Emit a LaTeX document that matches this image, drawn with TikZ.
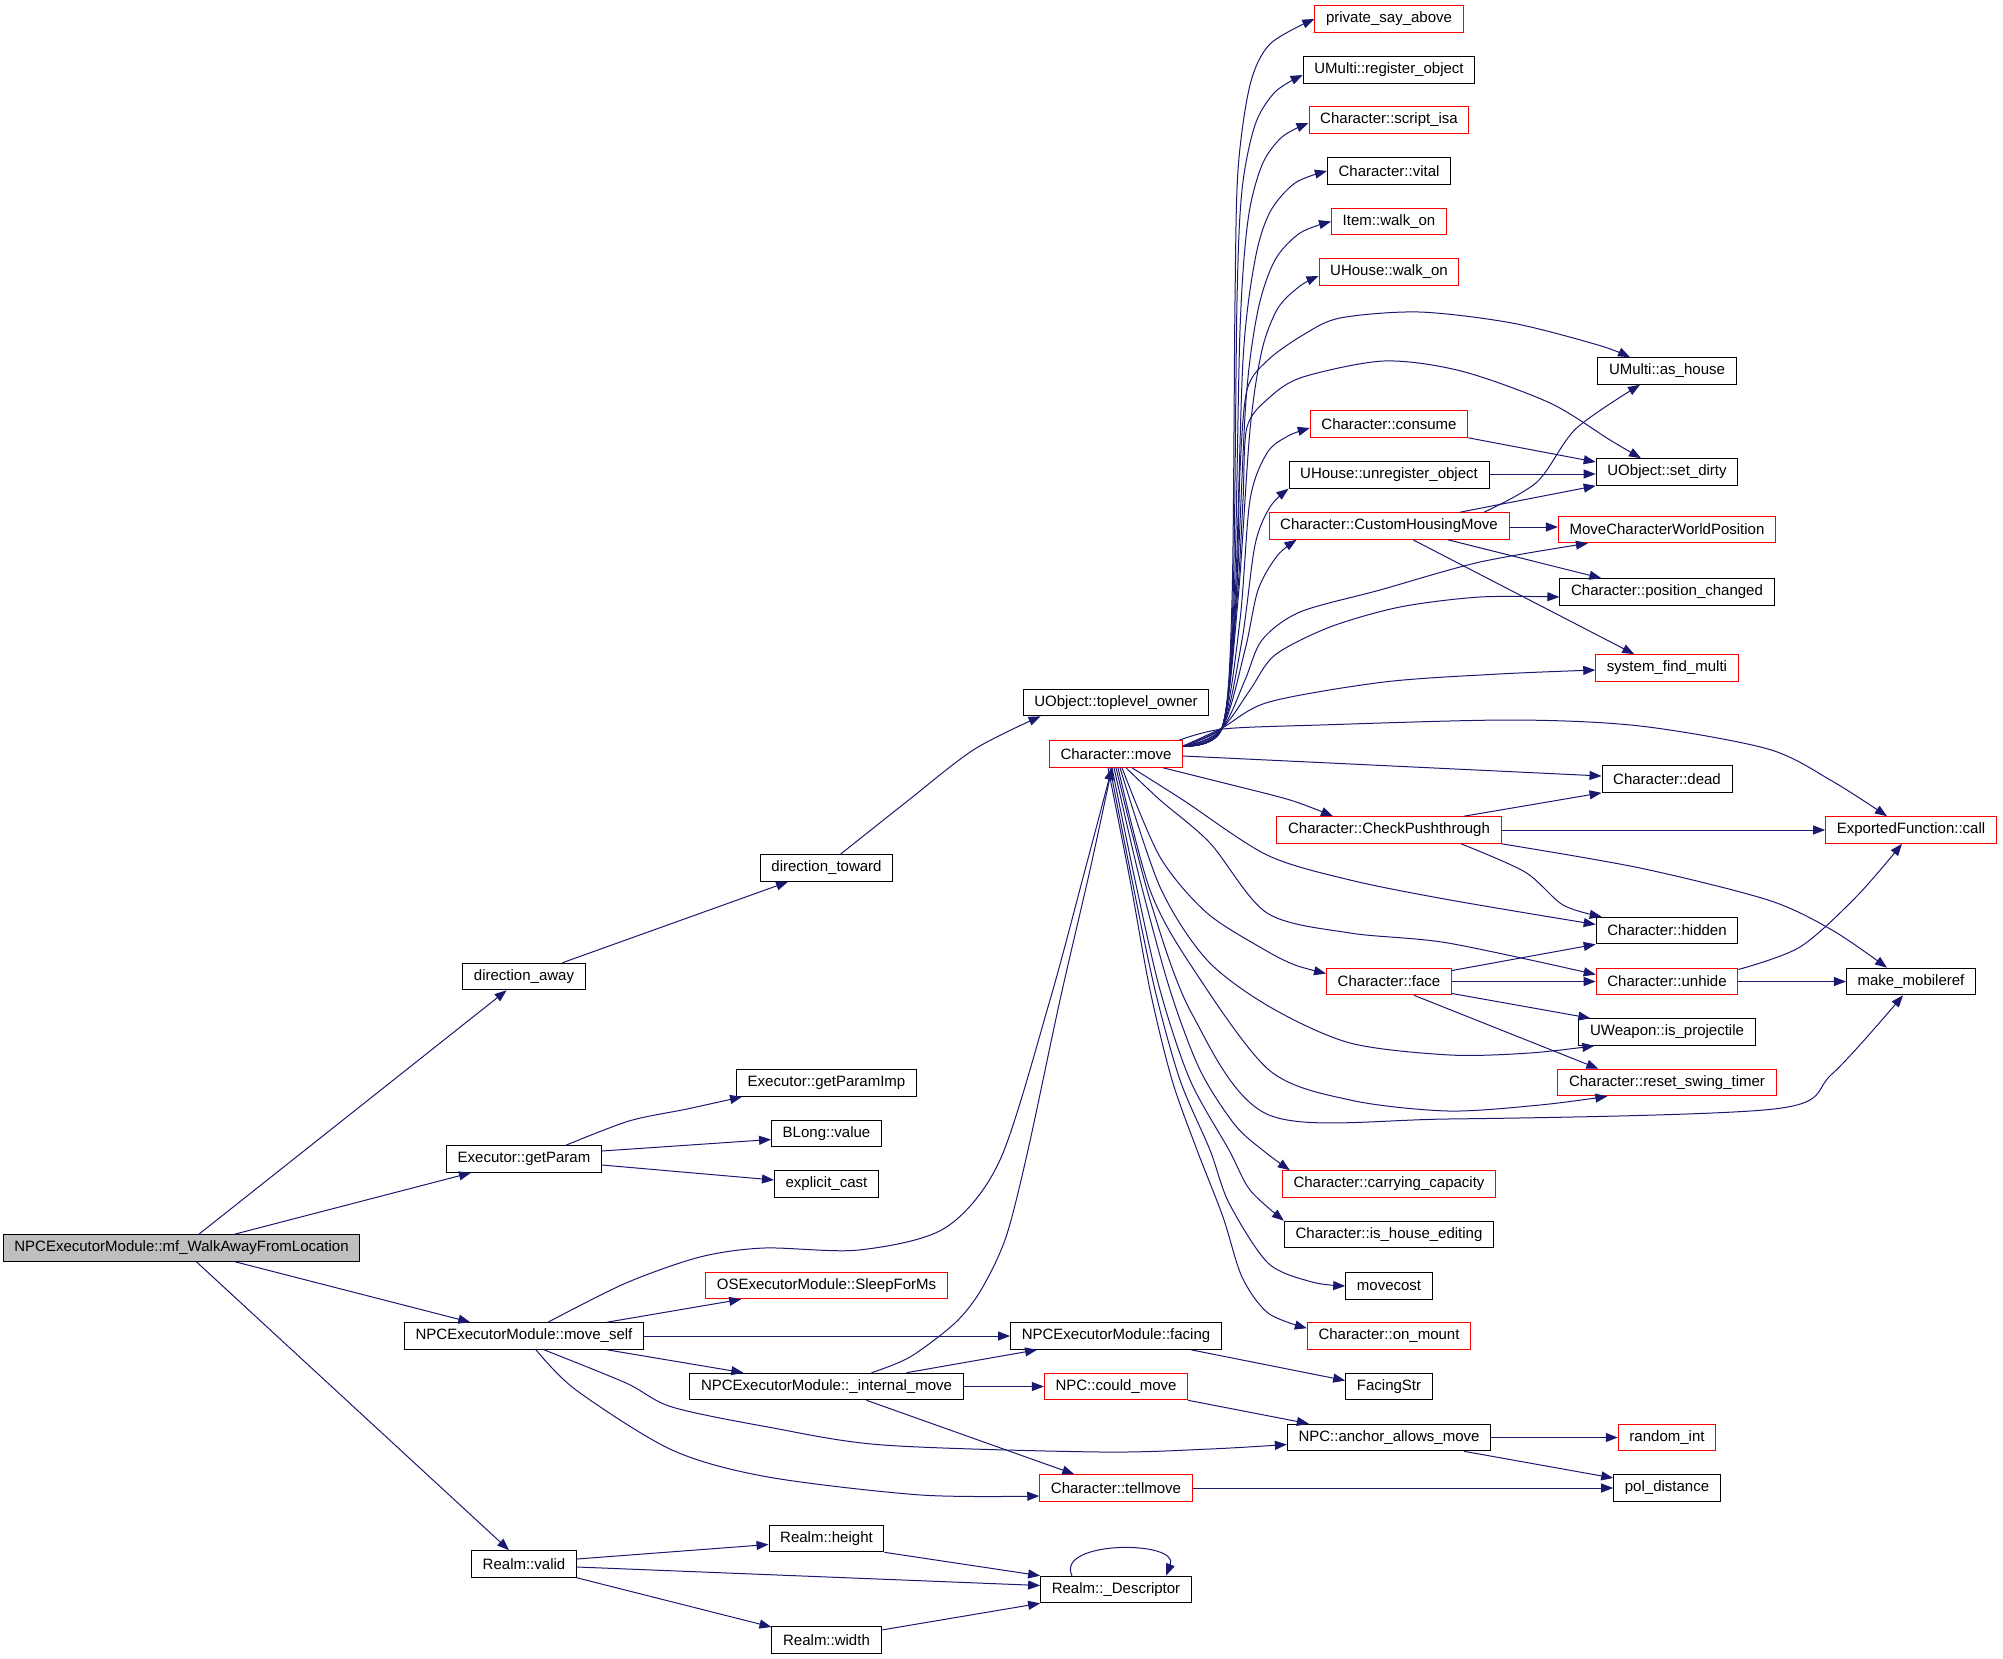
\documentclass[tikz,border=0pt]{standalone}
\usepackage{fontspec}
\setmainfont{Liberation Sans}
\usepackage{tikz}
\usetikzlibrary{arrows.meta}

\definecolor{edgeblue}{RGB}{25,25,112}
\definecolor{rootgrey}{RGB}{191,191,191}

\tikzset{
  fn/.style={rectangle, draw=black, line width=0.5pt, inner xsep=5.6pt, inner ysep=1pt,
    minimum height=13.3pt, font=\fontsize{7.5pt}{9pt}\selectfont},
  fnred/.style={fn, draw=red},
  fnroot/.style={fn, fill=rootgrey},
}

\begin{document}
\begin{tikzpicture}[x=0.5pt, y=-0.5pt, ->, >={Triangle[length=6pt,width=4.5pt]}, draw=edgeblue, line width=0.5pt]
      \useasboundingbox (0,0) rectangle (2003,1659);

      \node[fnroot] (walkaway) at (181.5,1248) {NPCExecutorModule::mf\_WalkAwayFromLocation};

      \node[fn] (diraway) at (524,976.5) {direction\_away};
      \node[fn] (getparam) at (524,1159) {Executor::getParam};
      \node[fn] (moveself) at (524,1336) {NPCExecutorModule::move\_self};
      \node[fn] (realmvalid) at (524,1564) {Realm::valid};

      \node[fn] (dirtoward) at (826.5,868) {direction\_toward};
      \node[fn] (getparamimp) at (826.5,1083) {Executor::getParamImp};
      \node[fn] (blong) at (826.5,1133.5) {BLong::value};
      \node[fn] (explicitcast) at (826.5,1184) {explicit\_cast};
      \node[fnred] (sleep) at (826.5,1285.5) {OSExecutorModule::SleepForMs};
      \node[fn] (internalmove) at (826.5,1386.5) {NPCExecutorModule::\_internal\_move};
      \node[fn] (realmheight) at (826.5,1538.5) {Realm::height};
      \node[fn] (realmwidth) at (826.5,1640) {Realm::width};

      \node[fn] (toplevel) at (1116,702.5) {UObject::toplevel\_owner};
      \node[fnred] (move) at (1116,754) {Character::move};
      \node[fn] (facing) at (1116,1336) {NPCExecutorModule::facing};
      \node[fnred] (couldmove) at (1116,1386.5) {NPC::could\_move};
      \node[fnred] (tellmove) at (1116,1488) {Character::tellmove};
      \node[fn] (descriptor) at (1116,1589.5) {Realm::\_Descriptor};

      \node[fnred] (sayabove) at (1389,19) {private\_say\_above};
      \node[fn] (registerobj) at (1389,70) {UMulti::register\_object};
      \node[fnred] (scriptisa) at (1389,120) {Character::script\_isa};
      \node[fn] (vital) at (1389,171) {Character::vital};
      \node[fnred] (itemwalk) at (1389,221.5) {Item::walk\_on};
      \node[fnred] (housewalk) at (1389,272) {UHouse::walk\_on};
      \node[fnred] (consume) at (1389,424) {Character::consume};
      \node[fn] (unregister) at (1389,475) {UHouse::unregister\_object};
      \node[fnred] (customhousing) at (1389,526) {Character::CustomHousingMove};
      \node[fnred] (pushthrough) at (1389,830) {Character::CheckPushthrough};
      \node[fnred] (face) at (1389,981.5) {Character::face};
      \node[fnred] (carrying) at (1389,1184) {Character::carrying\_capacity};
      \node[fn] (houseediting) at (1389,1234.5) {Character::is\_house\_editing};
      \node[fn] (movecost) at (1389,1286) {movecost};
      \node[fnred] (onmount) at (1389,1336) {Character::on\_mount};
      \node[fn] (facingstr) at (1389,1386.5) {FacingStr};
      \node[fn] (anchormove) at (1389,1437.5) {NPC::anchor\_allows\_move};

      \node[fn] (ashouse) at (1667,371) {UMulti::as\_house};
      \node[fn] (setdirty) at (1667,472) {UObject::set\_dirty};
      \node[fnred] (moveworld) at (1667,529.5) {MoveCharacterWorldPosition};
      \node[fn] (poschanged) at (1667,592) {Character::position\_changed};
      \node[fnred] (findmulti) at (1667,668) {system\_find\_multi};
      \node[fn] (dead) at (1667,779) {Character::dead};
      \node[fn] (hidden) at (1667,930.5) {Character::hidden};
      \node[fnred] (unhide) at (1667,981.5) {Character::unhide};
      \node[fn] (projectile) at (1667,1032) {UWeapon::is\_projectile};
      \node[fnred] (swingtimer) at (1667,1082.5) {Character::reset\_swing\_timer};
      \node[fnred] (randomint) at (1667,1437.5) {random\_int};
      \node[fn] (poldist) at (1667,1488) {pol\_distance};

      \node[fnred] (exportedcall) at (1911,830) {ExportedFunction::call};
      \node[fn] (mobileref) at (1911,981.5) {make\_mobileref};

  \foreach \from/\to in {walkaway/diraway, walkaway/getparam, walkaway/moveself, walkaway/realmvalid,
      diraway/dirtoward, moveself/facing, internalmove/couldmove, anchormove/randomint,
      tellmove/poldist, pushthrough/exportedcall, face/unhide, unhide/mobileref}
     \draw (\from) -- (\to);

  \draw plot[smooth] coordinates {([xshift=7pt]dirtoward.north) (905,803) (974,749.5) ([xshift=9pt]toplevel.south west)};
  \draw plot[smooth] coordinates {([xshift=21pt]getparam.north) (629,1121) (687,1109) ([xshift=3pt]getparamimp.south west)};
  \draw ([yshift=4pt]getparam.east) -- ([yshift=-3pt]blong.west);
  \draw ([yshift=-3pt]getparam.east) -- ([yshift=2pt]explicitcast.west);

  \draw ([xshift=41.5pt]moveself.north) -- ([xshift=18pt]sleep.south west);
  \draw ([xshift=41.5pt]moveself.south) -- ([xshift=27pt]internalmove.north west);
  \draw plot[smooth] coordinates {([xshift=12pt]moveself.north) (626,1283) (700,1257) (764,1248) (859,1250) (945,1228) (1000,1160) (1050,1000) (1085,870) ([xshift=-2pt]move.south)};
  \draw plot[smooth] coordinates {([xshift=10pt]moveself.south) (626,1383) (672,1407) (768,1427) (883,1445) (1100,1452) (1210,1449) ([yshift=-3.5pt]anchormove.west)};
  \draw plot[smooth] coordinates {([xshift=6pt]moveself.south) (576,1390) (672,1450) (768,1477) (921,1495) ([yshift=-4pt]tellmove.west)};

  \draw plot[smooth] coordinates {([xshift=22.5pt]internalmove.north) (910,1357) (955,1323) (981,1290) (1006,1237) (1028,1150) (1060,1000) (1090,870) ([xshift=-2pt]move.south)};
  \draw ([xshift=40pt]internalmove.north) -- ([xshift=13.5pt]facing.south west);
  \draw ([xshift=20pt]internalmove.south) -- ([xshift=17.5pt]tellmove.north west);
  \draw (couldmove.south east) -- ([xshift=11pt]anchormove.north west);
  \draw ([xshift=37.5pt]facing.south) -- ([yshift=3pt]facingstr.west);
  \draw ([xshift=37.5pt]anchormove.south) -- ([yshift=5pt]poldist.west);

  \draw ([yshift=2.5pt]realmvalid.east) -- ([yshift=-3pt]realmheight.west);
  \draw ([yshift=-1.5pt]realmvalid.east) -- ([yshift=2pt]descriptor.west);
  \draw (realmvalid.south east) -- ([yshift=6.5pt]realmwidth.west);
  \draw (realmheight.south east) -- (descriptor.north west);
  \draw ([yshift=5pt]realmwidth.east) -- (descriptor.south west);
  \draw ([xshift=-22pt]descriptor.north) .. controls (1055,1540) and (1180,1540) .. ([xshift=25pt]descriptor.north);

  \draw plot[smooth] coordinates {([yshift=4pt]move.east) (1222,728) (1232,600) (1235,300) (1238,170) (1250,85) (1270,44) (sayabove.west)};
  \draw plot[smooth] coordinates {([yshift=4pt]move.east) (1222,728) (1233,600) (1237,300) (1242,190) (1255,125) (1275,92) ([yshift=-2.5pt]registerobj.west)};
  \draw plot[smooth] coordinates {([yshift=4pt]move.east) (1222,728) (1234,600) (1240,330) (1248,220) (1262,165) (1282,137) ([yshift=-1.5pt]scriptisa.west)};
  \draw plot[smooth] coordinates {([yshift=4pt]move.east) (1222,728) (1235,600) (1243,360) (1255,260) (1270,212) (1295,183) (vital.west)};
  \draw plot[smooth] coordinates {([yshift=4pt]move.east) (1222,728) (1236,600) (1246,400) (1258,310) (1275,260) (1300,233) (itemwalk.west)};
  \draw plot[smooth] coordinates {([yshift=4pt]move.east) (1222,728) (1238,600) (1250,430) (1262,350) (1278,308) (1300,286) ([yshift=-2pt]housewalk.west)};
  \draw plot[smooth] coordinates {([yshift=4pt]move.east) (1222,728) (1240,620) (1250,500) (1267,453) (1288,436) ([yshift=-2pt]consume.west)};
  \draw plot[smooth] coordinates {([yshift=4pt]move.east) (1222,728) (1242,640) (1255,545) (1270,507) (unregister.south west)};
  \draw plot[smooth] coordinates {([yshift=4pt]move.east) (1222,728) (1245,650) (1258,590) (1277,556) ([xshift=14pt]customhousing.south west)};
  \draw plot[smooth] coordinates {([yshift=4pt]move.east) (1222,728) (1236,600) (1240,470) (1247,390) (1268,360) (1303,335) (1340,318) (1419,312) (1512,323) (1598,345) ([xshift=-18.5pt]ashouse.north)};
  \draw plot[smooth] coordinates {([yshift=4pt]move.east) (1222,728) (1237,600) (1243,500) (1247,427) (1270,397) (1303,377) (1384,361) (1461,371) (1550,403) (1610,440) ([xshift=-13pt]setdirty.north)};
  \draw plot[smooth] coordinates {([yshift=4pt]move.east) (1222,728) (1245,680) (1262,640) (1300,612) (1380,590) (1480,562) ([xshift=15pt]moveworld.south west)};
  \draw plot[smooth] coordinates {([yshift=4pt]move.east) (1222,728) (1250,690) (1275,655) (1330,627) (1400,607) (1480,597) ([yshift=-2.5pt]poschanged.west)};
  \draw plot[smooth] coordinates {([yshift=4pt]move.east) (1222,728) (1269,702) (1384,682) (1499,674) ([yshift=-1pt]findmulti.west)};
  \draw plot[smooth] coordinates {([xshift=-2pt]move.north east) (1223,729) (1320,725) (1512,720) (1640,726) (1768,749) (1832,781) ([xshift=-12pt]exportedcall.north)};
  \draw ([yshift=-1pt]move.east) -- ([yshift=1.5pt]dead.west);
  \draw plot[smooth] coordinates {([xshift=23.5pt]move.south) (1224,783) (1290,800) ([xshift=-28pt]pushthrough.north)};
  \draw plot[smooth] coordinates {([xshift=8pt]move.south) (1183,800) (1267,855) (1350,880) (1450,900) ([yshift=3pt]hidden.west)};
  \draw plot[smooth] coordinates {([xshift=3pt]move.south) (1160,857) (1207,913) (1265,950) (1295,965) ([yshift=4pt]face.west)};
  \draw plot[smooth] coordinates {([xshift=5pt]move.south) (1160,800) (1210,843) (1267,913) (1350,933) (1448,943) ([yshift=3.5pt]unhide.west)};
  \draw plot[smooth] coordinates {([xshift=2pt]move.south) (1160,887) (1207,960) (1270,1007) (1350,1043) (1450,1055) (1530,1053) ([xshift=8pt]projectile.south west)};
  \draw plot[smooth] coordinates {([xshift=1pt]move.south) (1150,890) (1192,967) (1269,1070) (1350,1100) (1448,1111) (1540,1105) ([xshift=25pt]swingtimer.south west)};
  \draw plot[smooth] coordinates {(move.south) (1150,900) (1192,1014) (1269,1115) (1448,1119) (1774,1109) (1832,1074) ([xshift=-4pt]mobileref.south)};
  \draw plot[smooth] coordinates {([xshift=-1pt]move.south) (1140,880) (1170,990) (1200,1070) (1235,1125) (1265,1152) ([xshift=4pt]carrying.north west)};
  \draw plot[smooth] coordinates {([xshift=-2pt]move.south) (1135,880) (1160,990) (1190,1080) (1229,1150) (1250,1190) (houseediting.north west)};
  \draw plot[smooth] coordinates {([xshift=-3pt]move.south) (1132,880) (1155,990) (1180,1080) (1210,1150) (1229,1203) (1268,1263) (1312,1282) (movecost.west)};
  \draw plot[smooth] coordinates {([xshift=-4pt]move.south) (1130,880) (1150,990) (1172,1080) (1197,1150) (1223,1217) (1242,1277) (1268,1313) ([yshift=-3pt]onmount.north west)};

  \draw (consume.south east) -- ([yshift=5pt]setdirty.west);
  \draw ([yshift=0.5pt]unregister.east) -- ([yshift=-1pt]setdirty.west);
  \draw ([xshift=35.5pt]customhousing.north) -- (setdirty.south west);
  \draw plot[smooth] coordinates {([xshift=47.5pt]customhousing.north) (1537,482) (1576,428.6) ([xshift=-13.5pt]ashouse.south)};
  \draw ([yshift=-0.5pt]customhousing.east) -- ([yshift=1.25pt]moveworld.west);
  \draw ([xshift=29.5pt]customhousing.south) -- ([xshift=21pt]poschanged.north west);
  \draw ([xshift=12pt]customhousing.south) -- ([xshift=19.5pt]findmulti.north west);

  \draw ([xshift=37.5pt]pushthrough.north) -- (dead.south west);
  \draw plot[smooth] coordinates {([xshift=36pt]pushthrough.south) (1525,872) (1563,905) ([xshift=3pt]hidden.north west)};
  \draw plot[smooth] coordinates {(pushthrough.south east) (1640,868) (1768,900) (1832,930) ([xshift=-12pt]mobileref.north)};
  \draw ([yshift=5.5pt]face.east) -- (hidden.south west);
  \draw ([yshift=-6pt]face.east) -- ([xshift=6pt]projectile.north west);
  \draw ([xshift=12.5pt]face.south) -- ([xshift=20.5pt]swingtimer.north west);
  \draw plot[smooth] coordinates {([yshift=6pt]unhide.east) (1800,947) (1857,896) ([xshift=-4.5pt]exportedcall.south)};

\end{tikzpicture}
\end{document}
